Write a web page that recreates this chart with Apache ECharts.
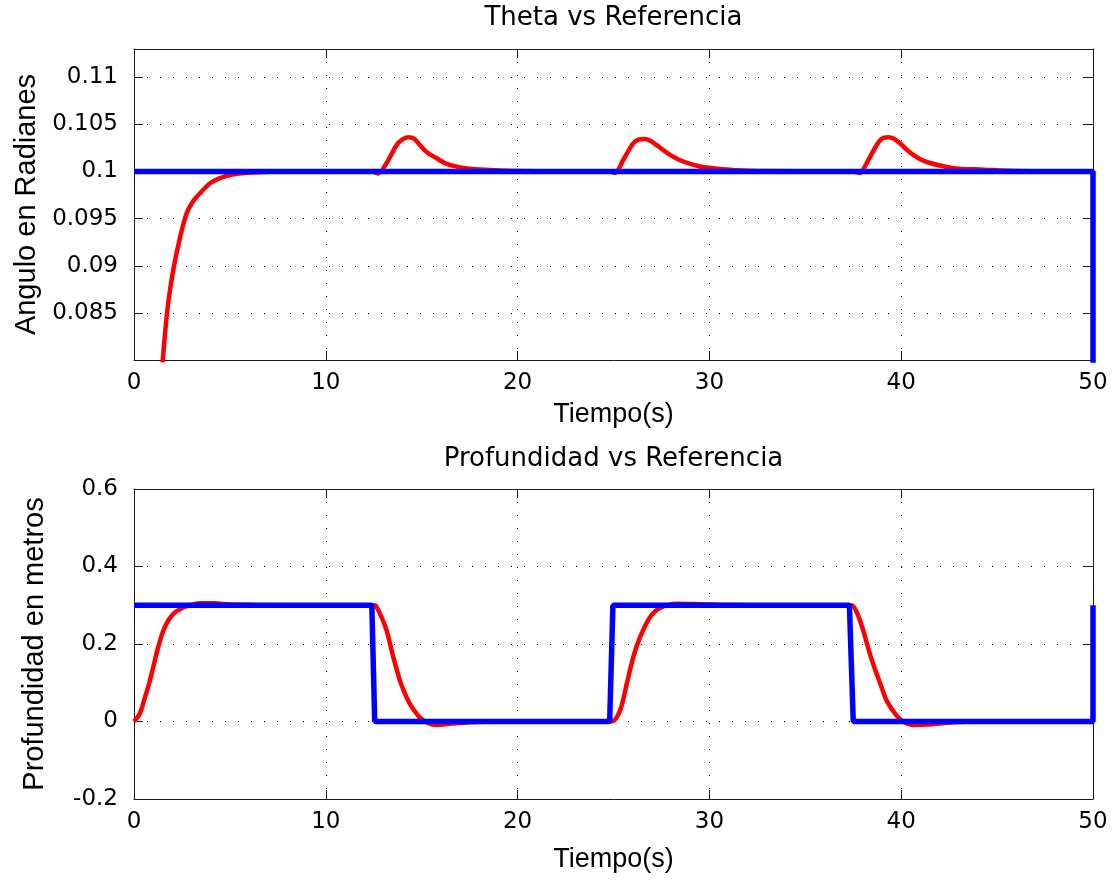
<!DOCTYPE html>
<html>
<head>
<meta charset="utf-8">
<script src="https://cdn.jsdelivr.net/npm/echarts@6/dist/echarts.min.js"></script>
<style>
html,body{margin:0;padding:0;background:#fff;}
#c{width:1114px;height:880px;}
</style>
</head>
<body>
<div id="c"></div>
<script>
// ---- data ----
const thetaTitle = 'Theta vs Referencia';
const depthTitle = 'Profundidad vs Referencia';
const xName = 'Tiempo(s)';
const thetaYName = 'Angulo en Radianes';
const depthYName = 'Profundidad en metros';

const thetaActual = [
  [1.3, 0.0745], [1.5, 0.0800], [1.75, 0.0855], [2.05, 0.0896], [2.4, 0.0930],
  [2.75, 0.0956], [3.1, 0.0969], [3.44, 0.0977], [4.0, 0.0988], [4.48, 0.0993],
  [5.2, 0.0997], [6.2, 0.0999], [8, 0.1], [10, 0.1], [12.4, 0.1],
  [12.74, 0.0998], [13.17, 0.1009], [13.69, 0.1028], [14.0, 0.1034], [14.3, 0.10364],
  [14.6, 0.1035], [14.91, 0.1028], [15.3, 0.1020], [15.78, 0.10141], [16.2, 0.1009],
  [16.65, 0.1006], [17.5, 0.1003], [18.4, 0.10018], [20, 0.10005], [24.8, 0.1],
  [25.08, 0.09985], [25.5, 0.1012], [26.03, 0.1030], [26.3, 0.10338], [26.6, 0.10345],
  [26.9, 0.10330], [27.25, 0.1028], [27.95, 0.10177], [28.64, 0.10106], [29.5, 0.10053],
  [30.4, 0.1003], [32, 0.10008], [37.5, 0.1],
  [37.85, 0.09985], [38.2, 0.1009], [38.72, 0.10282], [39.0, 0.1035], [39.33, 0.10364],
  [39.6, 0.1035], [39.94, 0.1030], [40.3, 0.1023], [40.63, 0.10176], [41.0, 0.1013],
  [41.5, 0.1009], [42.7, 0.10036], [44.3, 0.1002], [46, 0.10005], [50, 0.1]
];
const thetaRef = [[0, 0.1], [50, 0.1], [50, 0]];

const depthActual = [
  [0, 0], [0.3, 0.02], [0.57, 0.062], [0.8, 0.10], [1.0, 0.14], [1.25, 0.19],
  [1.53, 0.235], [1.8, 0.262], [2.05, 0.278], [2.4, 0.290], [2.74, 0.297],
  [3.44, 0.305], [4.2, 0.305], [5, 0.302], [7, 0.3], [12.5, 0.3],
  [12.6, 0.299], [12.9, 0.27], [13.17, 0.235], [13.52, 0.166], [13.87, 0.105],
  [14.1, 0.075], [14.39, 0.045], [14.91, 0.01], [15.3, -0.003], [15.78, -0.009],
  [16.5, -0.006], [17.5, -0.002], [19, 0], [24.9, 0],
  [25.34, 0.028], [25.69, 0.097], [26.03, 0.166], [26.38, 0.217], [26.9, 0.269],
  [27.42, 0.293], [28.29, 0.304], [29.2, 0.303], [30.5, 0.301], [32, 0.3], [37.4, 0.3],
  [37.7, 0.28], [38.02, 0.235], [38.37, 0.174], [38.72, 0.123], [39.0, 0.085],
  [39.24, 0.054], [39.76, 0.015], [40.1, 0.0], [40.63, -0.009], [41.67, -0.007],
  [42.7, -0.002], [44, 0], [50, 0]
];
const depthRef = [
  [0, 0.3], [12.4, 0.3], [12.55, 0], [24.8, 0], [24.97, 0.3],
  [37.3, 0.3], [37.5, 0], [50, 0], [50, 0.3]
];

const xTicks = {min: 0, max: 50, interval: 10};
const thetaTicks = {min: 0.08, max: 0.113, interval: 0.005};
const depthTicks = {min: -0.2, max: 0.6, interval: 0.2};

// ---- styles ----
const FONT = 'DejaVu Sans';
const SANS = '"Liberation Sans", Arial, sans-serif';
const axisColor = '#1a1a1a';
const dotted = {color: '#000', width: 1, type: [1, 12]};

function mainX(gridIndex) {
  return {
    type: 'value', gridIndex, position: 'bottom',
    min: xTicks.min, max: xTicks.max, interval: xTicks.interval,
    name: xName, nameLocation: 'middle', nameGap: gridIndex === 0 ? 41 : 47,
    nameTextStyle: {fontFamily: SANS, fontSize: 27, color: '#000'},
    axisLine: {show: true, onZero: false, lineStyle: {color: axisColor, width: 1}},
    axisTick: {show: true, inside: true, length: 9, lineStyle: {color: axisColor}},
    axisLabel: {fontFamily: FONT, fontSize: 23, color: '#000', margin: 12},
    splitLine: {show: true, lineStyle: dotted}
  };
}
function topX(gridIndex, title) {
  return {
    type: 'value', gridIndex, position: 'top',
    min: xTicks.min, max: xTicks.max, interval: xTicks.interval,
    name: title, nameLocation: 'middle', nameGap: gridIndex === 0 ? 18 : 17,
    nameTextStyle: {fontFamily: FONT, fontSize: 26, color: '#000'},
    axisLine: {show: true, onZero: false, lineStyle: {color: axisColor, width: 1}},
    axisTick: {show: true, inside: true, length: 9, lineStyle: {color: axisColor}},
    axisLabel: {show: false},
    splitLine: {show: false}
  };
}
function leftY(gridIndex, t, name, gap) {
  return {
    type: 'value', gridIndex, position: 'left',
    min: t.min, max: t.max, interval: t.interval,
    name, nameLocation: 'middle', nameGap: gap,
    nameTextStyle: {fontFamily: SANS, fontSize: 29, color: '#000'},
    axisLine: {show: true, onZero: false, lineStyle: {color: axisColor, width: 1}},
    axisTick: {show: true, inside: true, length: 9, lineStyle: {color: axisColor}},
    axisLabel: {
      fontFamily: FONT, fontSize: 23, color: '#000', margin: 16,
      showMinLabel: gridIndex === 1, showMaxLabel: gridIndex === 1,
      formatter: v => String(+v.toFixed(4))
    },
    splitLine: {show: true, lineStyle: dotted}
  };
}
function rightY(gridIndex, t) {
  return {
    type: 'value', gridIndex, position: 'right',
    min: t.min, max: t.max, interval: t.interval,
    axisLine: {show: true, onZero: false, lineStyle: {color: axisColor, width: 1}},
    axisTick: {show: true, inside: true, length: 9, lineStyle: {color: axisColor}},
    axisLabel: {show: false},
    splitLine: {show: false}
  };
}

const option = {
  animation: false,
  backgroundColor: '#fff',
  grid: [
    {left: 134, right: 21, top: 49, height: 311},
    {left: 134, right: 21, top: 489, height: 310}
  ],
  xAxis: [mainX(0), topX(0, thetaTitle), mainX(1), topX(1, depthTitle)],
  yAxis: [
    leftY(0, thetaTicks, thetaYName, 93), rightY(0, thetaTicks),
    leftY(1, depthTicks, depthYName, 85), rightY(1, depthTicks)
  ],
  series: [
    {type: 'line', xAxisIndex: 0, yAxisIndex: 0, data: thetaActual, showSymbol: false,
     smooth: 0.3, lineStyle: {color: '#ff0000', width: 4.5}, z: 2},
    {type: 'line', xAxisIndex: 0, yAxisIndex: 0, data: thetaRef, showSymbol: false,
     lineStyle: {color: '#0000ff', width: 5.5}, z: 3},
    {type: 'line', xAxisIndex: 2, yAxisIndex: 2, data: depthActual, showSymbol: false,
     smooth: 0.3, lineStyle: {color: '#ff0000', width: 4.5}, z: 2},
    {type: 'line', xAxisIndex: 2, yAxisIndex: 2, data: depthRef, showSymbol: false,
     lineStyle: {color: '#0000ff', width: 5.5}, z: 3}
  ]
};
const chart = echarts.init(document.getElementById('c'), null, {renderer: 'canvas'});
chart.setOption(option);
</script>
</body>
</html>
